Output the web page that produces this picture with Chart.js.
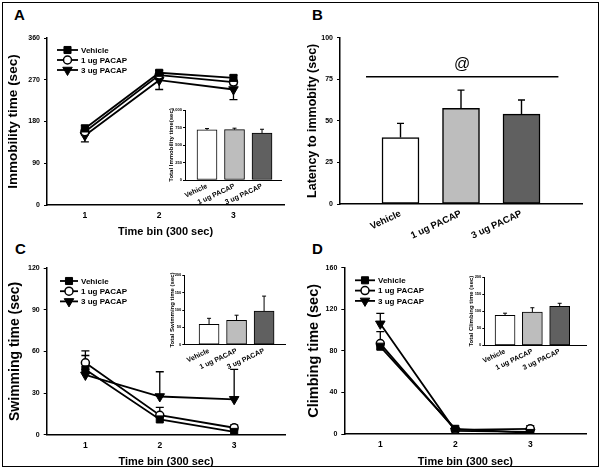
<!DOCTYPE html>
<html><head><meta charset="utf-8">
<script src="https://cdn.jsdelivr.net/npm/chart.js@4.4.0/dist/chart.umd.min.js"></script>
<style>
body{margin:0;background:#fff;}
#wrap{position:relative;width:600px;height:474px;background:#fff;overflow:hidden;}
#frame{position:absolute;left:2px;top:2px;width:597px;height:465px;border:1.5px solid #000;box-sizing:border-box;}
canvas{position:absolute;left:0;top:0;}
.lbl{position:absolute;font:bold 15px "Liberation Sans",Arial,sans-serif;line-height:15px;color:#000;}
</style></head>
<body><div id="wrap"><div id="frame"></div>
<div class="lbl" style="left:14px;top:7px">A</div>
<div class="lbl" style="left:312px;top:7px">B</div>
<div class="lbl" style="left:15px;top:241px">C</div>
<div class="lbl" style="left:312px;top:241px">D</div>
</div>
<script>
// ---------------- DATA ----------------
const timeBins = [1, 2, 3];
const groups = ['Vehicle', '1 ug PACAP', '3 ug PACAP'];

// Panel A: immobility time per bin
const immobVehicle = [165, 285, 274];
const immobVehicleErr = [7, 5, 6];
const immob1ug = [158, 280, 265];
const immob1ugErr = [7, 5, 6];
const immob3ug = [150, 269, 249];
const immob3ugErr = [14, 20, 22];
// Panel A inset: total immobility
const totalImmob = [715, 720, 670];
const totalImmobErr = [20, 20, 55];

// Panel B: latency to immobility
const latency = [40, 57.5, 54];
const latencyErr = [8.5, 11, 8.5];
const sigLineValue = 76.5;
const sigSpan = [0.43, 3.61];
const sigLabel = '@';
const sigLabelValue = 84;

// Panel C: swimming time per bin
const swimVehicle = [47, 11, 2];
const swimVehicleErr = [10, 3, 1];
const swim1ug = [51.8, 14, 5];
const swim1ugErr = [8.6, 5.7, 2];
const swim3ug = [43, 27.5, 25.5];
const swim3ugErr = [4, 17.8, 21.5];
// Panel C inset: total swimming
const totalSwim = [59, 70, 97];
const totalSwimErr = [17, 15, 43];

// Panel D: climbing time per bin
const climbVehicle = [84, 5, 1];
const climbVehicleErr = [3, 1, 1];
const climb1ug = [87, 4, 5];
const climb1ugErr = [11.5, 1, 3];
const climb3ug = [106, 3, 2];
const climb3ugErr = [10, 1, 1];
// Panel D inset: total climbing
const totalClimb = [88, 97, 114];
const totalClimbErr = [6, 13, 9];

// ---------------- STYLE ----------------
const FONT = '"Liberation Sans", Arial, sans-serif';
const STY = [
  {style:'rect', r:5, rot:0, fill:'#000', bw:1},
  {style:'circle', r:4, rot:0, fill:'#fff', bw:1.5},
  {style:'triangle', r:5.5, rot:180, fill:'#000', bw:1}
];
const BAR_FILLS = ['#ffffff', '#bdbdbd', '#606060'];

const wrap = document.getElementById('wrap');
function mkCanvas(){
  const c = document.createElement('canvas');
  c.width = 600; c.height = 474;
  c.style.width = '600px'; c.style.height = '474px';
  wrap.appendChild(c); return c;
}
function areaLayout(a){ return {padding:{left:a.L-a.yW, top:a.T, right:600-a.R, bottom:474-a.B-a.xH}}; }
function fitY(w){ return s => { s.width = w; s.paddingTop = 0; s.paddingBottom = 0; s.paddingLeft = 0; s.paddingRight = 0; }; }
function fitX(h){ return s => { s.height = h; s.paddingLeft = 0; s.paddingRight = 0; s.paddingTop = 0; s.paddingBottom = 0; }; }

// ---------------- PLUGINS ----------------
const errorBarPlugin = {
  id: 'errbars',
  beforeDatasetsDraw(chart){
    const ctx = chart.ctx, yS = chart.scales.y;
    chart.data.datasets.forEach((ds, i) => {
      if (!ds.errors) return;
      const meta = chart.getDatasetMeta(i);
      ctx.save();
      ctx.strokeStyle = '#000'; ctx.lineWidth = ds.errWidth || 1.3;
      meta.data.forEach((el, j) => {
        const e = ds.errors[j], raw = ds.data[j];
        if (e == null || raw == null) return;
        const v = typeof raw === 'object' ? raw.y : raw;
        const dir = ds.errDir === 'down' ? -1 : 1;
        const y0 = yS.getPixelForValue(v), y1 = yS.getPixelForValue(v + dir * e);
        const x = el.x, c = (ds.errCap || 6) / 2;
        ctx.beginPath();
        ctx.moveTo(x, y0); ctx.lineTo(x, y1);
        ctx.moveTo(x - c, y1); ctx.lineTo(x + c, y1);
        ctx.stroke();
      });
      ctx.restore();
    });
  }
};
function drawMarker(ctx, s, x, y){
  ctx.save();
  ctx.fillStyle = s.fill; ctx.strokeStyle = '#000'; ctx.lineWidth = s.bw;
  if (Chart.helpers && Chart.helpers.drawPoint){
    Chart.helpers.drawPoint(ctx, {pointStyle:s.style, radius:s.r, rotation:s.rot, borderWidth:s.bw}, x, y);
  } else {
    ctx.beginPath(); ctx.arc(x, y, s.r, 0, Math.PI*2); ctx.fill(); ctx.stroke();
  }
  ctx.restore();
}
const lineLegendPlugin = {
  id: 'lineLegend',
  afterDatasetsDraw(chart, args, o){
    if (!o || o.x1 == null) return;
    const ctx = chart.ctx;
    chart.data.datasets.forEach((ds, i) => {
      const y = o.y + i * o.dy;
      ctx.save();
      ctx.strokeStyle = '#000'; ctx.lineWidth = ds.borderWidth;
      ctx.beginPath(); ctx.moveTo(o.x1, y); ctx.lineTo(o.x2, y); ctx.stroke();
      ctx.restore();
      drawMarker(ctx, STY[i], (o.x1 + o.x2) / 2, y);
      ctx.save();
      ctx.fillStyle = '#000'; ctx.font = 'bold ' + o.size + 'px ' + FONT;
      ctx.textBaseline = 'middle'; ctx.textAlign = 'left';
      ctx.fillText(ds.label, o.tx, y + 0.5);
      ctx.restore();
    });
  }
};
const sigPlugin = {
  id: 'sig',
  afterDatasetsDraw(chart, args, o){
    if (!o || o.y == null) return;
    const ctx = chart.ctx, xS = chart.scales.x, yS = chart.scales.y;
    const y = yS.getPixelForValue(o.y);
    ctx.save();
    ctx.strokeStyle = '#000'; ctx.lineWidth = 1.5;
    ctx.beginPath(); ctx.moveTo(xS.getPixelForValue(o.from), y); ctx.lineTo(xS.getPixelForValue(o.to), y); ctx.stroke();
    ctx.fillStyle = '#000'; ctx.font = o.size + 'px ' + FONT;
    ctx.textAlign = 'center'; ctx.textBaseline = 'middle';
    ctx.fillText(o.label, xS.getPixelForValue((o.from + o.to) / 2), yS.getPixelForValue(o.labelY));
    ctx.restore();
  }
};
Chart.register(errorBarPlugin, lineLegendPlugin, sigPlugin);

// ---------------- BUILDERS ----------------
function yScale(a, title, titleSize, tickSize, tickLen, pad){
  return {
    min: 0, max: a.ymax, afterFit: fitY(a.yW),
    ticks: {stepSize: a.ystep, color:'#000', font:{family:FONT, size:tickSize, weight:'bold'}, padding: pad},
    grid: {display:true, drawOnChartArea:false, drawTicks:true, tickLength:tickLen, color:'#000', lineWidth:1},
    border: {display:true, color:'#000', width:1.5},
    title: {display:true, text:title, color:'#000', font:{family:FONT, size:titleSize, weight:'bold'}, padding:{top:0, bottom:0}}
  };
}
function lineChart(a, series, yTitle, yTitleSize, legend){
  return new Chart(mkCanvas(), {
    type: 'line',
    data: { datasets: series.map((s, i) => ({
      label: groups[i],
      data: timeBins.map((t, j) => ({x: t, y: s.values[j]})),
      errors: s.errors, errDir: s.dir, errCap: 8,
      borderColor: '#000', borderWidth: 1.8, backgroundColor: STY[i].fill,
      pointStyle: STY[i].style, pointRadius: STY[i].r, pointRotation: STY[i].rot,
      pointBackgroundColor: STY[i].fill, pointBorderColor: '#000', pointBorderWidth: STY[i].bw,
      tension: 0, fill: false
    }))},
    options: {
      responsive: false, animation: false, devicePixelRatio: 1,
      layout: areaLayout(a),
      plugins: {legend:{display:false}, tooltip:{enabled:false}, lineLegend: legend},
      scales: {
        x: {
          type: 'linear', min: a.xmin, max: a.xmax, afterFit: fitX(a.xH),
          afterBuildTicks: s => { s.ticks = timeBins.map(v => ({value: v})); },
          grid: {display:false, drawTicks:false},
          border: {display:true, color:'#000', width:1.5},
          ticks: {color:'#000', font:{family:FONT, size:8.5, weight:'bold'}, padding:6, maxRotation:0, autoSkip:false, callback: v => String(v)},
          title: {display:true, text:'Time bin (300 sec)', color:'#000', font:{family:FONT, size:11, weight:'bold'}, padding:{top:0, bottom:0}}
        },
        y: yScale(a, yTitle, yTitleSize, 7, 3, 4)
      }
    }
  });
}
function barChart(a, values, errors, o){
  return new Chart(mkCanvas(), {
    type: 'bar',
    data: { datasets: [{
      label: 'total',
      data: groups.map((g, j) => ({x: j + 1, y: values[j]})),
      errors: errors, errDir: 'up', errCap: o.cap, errWidth: o.ew,
      backgroundColor: BAR_FILLS, borderColor: '#000', borderWidth: o.bw,
      borderSkipped: false, barThickness: o.barW
    }]},
    options: {
      responsive: false, animation: false, devicePixelRatio: 1,
      layout: areaLayout(a),
      plugins: {legend:{display:false}, tooltip:{enabled:false}, sig: o.sig || {}},
      scales: {
        x: {
          type: 'linear', min: a.xmin, max: a.xmax, offset: false, afterFit: fitX(a.xH),
          afterBuildTicks: s => { s.ticks = groups.map((g, j) => ({value: j + 1})); },
          grid: {display:false, drawTicks:false},
          border: {display:true, color:'#000', width:o.axisW},
          ticks: {color:'#000', font:{family:FONT, size:o.xFont, weight:'bold'}, padding:o.xPad, minRotation:25, maxRotation:25, autoSkip:false,
                  callback: v => groups[Math.round(v) - 1] || ''}
        },
        y: Object.assign(yScale(a, o.yTitle, o.yTitleSize, o.yTickFont, o.tickLen, o.yPad),
          {border:{display:true, color:'#000', width:o.axisW}})
      }
    }
  });
}

// ---------------- PANEL A ----------------
lineChart({L:47, T:38, R:284, B:205, yW:41.8, xH:33.6, xmin:0.49, xmax:3.68, ymax:360, ystep:90},
  [{values:immobVehicle, errors:immobVehicleErr, dir:'up'},
   {values:immob1ug, errors:immob1ugErr, dir:'down'},
   {values:immob3ug, errors:immob3ugErr, dir:'down'}],
  'Immobility time (sec)', 13.5, {x1:57, x2:78, y:50, dy:10, tx:81, size:8});
barChart({L:185, T:110, R:281, B:180, yW:16.9, xH:30, xmin:0.2, xmax:3.69, ymax:1000, ystep:250},
  totalImmob, totalImmobErr,
  {cap:4, ew:1, bw:1, barW:20, axisW:1, xFont:7, xPad:2, yTitle:'Total Immobility time(sec)', yTitleSize:6, yTickFont:4, tickLen:2, yPad:1});

// ---------------- PANEL B ----------------
barChart({L:340, T:37.7, R:582, B:204, yW:34.8, xH:45, xmin:0, xmax:4, ymax:100, ystep:25},
  latency, latencyErr,
  {cap:7, ew:1.4, bw:1.5, barW:37, axisW:1.5, xFont:9.5, xPad:4, yTitle:'Latency to immobity (sec)', yTitleSize:12.5, yTickFont:7, tickLen:3, yPad:4,
   sig:{y:sigLineValue, from:sigSpan[0], to:sigSpan[1], label:sigLabel, labelY:sigLabelValue, size:16}});

// ---------------- PANEL C ----------------
lineChart({L:46.7, T:268, R:285.5, B:434.7, yW:40.4, xH:33.9, xmin:0.48, xmax:3.69, ymax:120, ystep:30},
  [{values:swimVehicle, errors:swimVehicleErr, dir:'up'},
   {values:swim1ug, errors:swim1ugErr, dir:'up'},
   {values:swim3ug, errors:swim3ugErr, dir:'up'}],
  'Swimming time (sec)', 14, {x1:60, x2:78, y:281, dy:10.2, tx:81, size:8});
barChart({L:184.3, T:275.3, R:285, B:344.7, yW:15.4, xH:30, xmin:0.1, xmax:3.76, ymax:200, ystep:50},
  totalSwim, totalSwimErr,
  {cap:4, ew:1, bw:1, barW:20, axisW:1, xFont:7, xPad:2, yTitle:'Total Swimming time (sec)', yTitleSize:6, yTickFont:4, tickLen:2, yPad:1});

// ---------------- PANEL D ----------------
lineChart({L:344.3, T:267.7, R:586.5, B:434, yW:39.3, xH:34.6, xmin:0.52, xmax:3.75, ymax:160, ystep:40},
  [{values:climbVehicle, errors:climbVehicleErr, dir:'up'},
   {values:climb1ug, errors:climb1ugErr, dir:'up'},
   {values:climb3ug, errors:climb3ugErr, dir:'up'}],
  'Climbing time (sec)', 14.5, {x1:355, x2:375, y:280.3, dy:10.3, tx:378, size:8});
barChart({L:484.3, T:277, R:586.7, B:345.3, yW:16.5, xH:30, xmin:0.24, xmax:3.99, ymax:200, ystep:50},
  totalClimb, totalClimbErr,
  {cap:4, ew:1, bw:1, barW:20, axisW:1, xFont:7, xPad:2, yTitle:'Total Climbing time (sec)', yTitleSize:6, yTickFont:4, tickLen:2, yPad:1});
</script>
</body></html>
